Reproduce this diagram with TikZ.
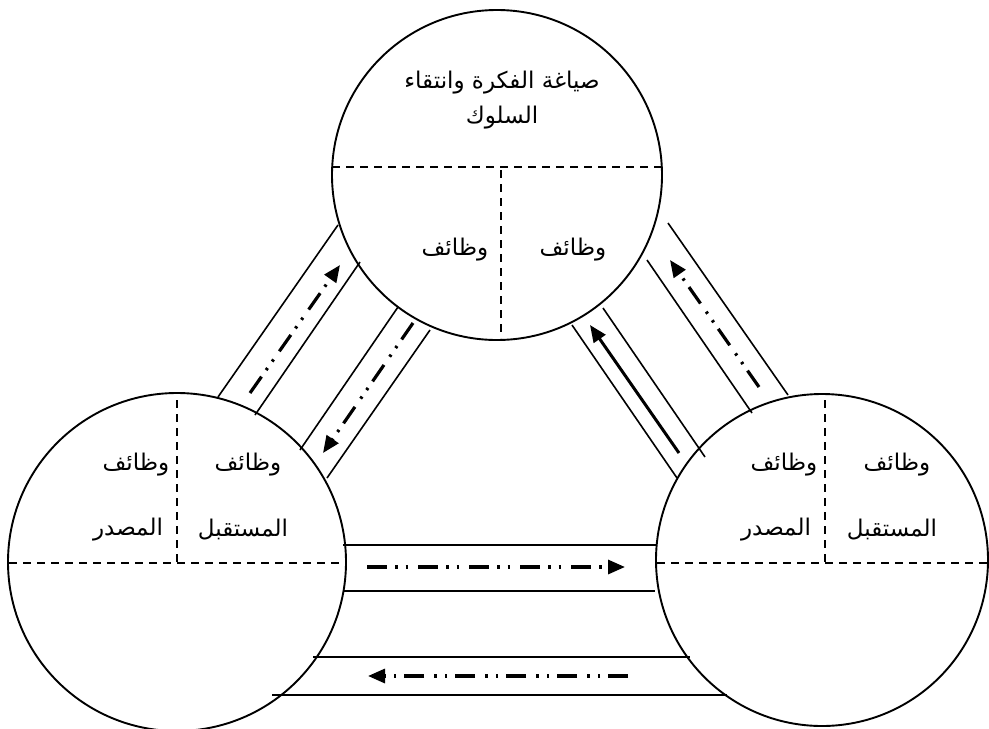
\documentclass[tikz,border=0pt]{standalone}
\usepackage{fontspec}
\usetikzlibrary{arrows.meta}
\newfontfamily\arabicfont[Script=Arabic]{DejaVu Sans}
\TeXXeTstate=1
\newcommand{\rl}[1]{\beginR #1\endR}

\begin{document}
\begin{tikzpicture}[x=1pt, y=-1pt,
  circ/.style={draw, circle, line width=1.9pt, minimum size=#1, inner sep=0pt},
  txt/.style={font=\arabicfont\fontsize{23}{35}\selectfont, inner sep=0pt, align=center},
  sep/.style={line width=1.5pt, dash pattern=on 8pt off 6pt},
  band/.style={line width=1.6pt},
  flow/.style={->, line width=3.2pt, dash pattern=on 20pt off 8pt on 2.5pt off 8pt on 2.5pt off 10pt},
  >={Triangle[length=17pt,width=14pt]}]
\useasboundingbox (0,0) rectangle (989,729);
% the three circles
\node[circ=330pt] (top) at (497,175) {};
\node[circ=338pt] (left) at (177,562) {};
\node[circ=332pt] (right) at (822,560) {};
% dashed separators
\draw[sep] (332,167) -- (662,167);
\draw[sep] (501,170) -- (501,338);
\draw[sep] (9,563) -- (345,563);
\draw[sep] (177,400) -- (177,563);
\draw[sep] (657,563) -- (987,563);
\draw[sep] (825,400) -- (825,563);
% texts
\node[txt] (title) at (502,100) {\rl{صياغة الفكرة وانتقاء}\\\rl{السلوك}};
\node[txt] (tl) at (455,250) {\rl{وظائف}};
\node[txt] (tr) at (573,250) {\rl{وظائف}};
\node[txt] (l1) at (136,465) {\rl{وظائف}};
\node[txt] (l2) at (128,530) {\rl{المصدر}};
\node[txt] (l3) at (248,465) {\rl{وظائف}};
\node[txt] (l4) at (243,530) {\rl{المستقبل}};
\node[txt] (r1) at (784,465) {\rl{وظائف}};
\node[txt] (r2) at (776,530) {\rl{المصدر}};
\node[txt] (r3) at (897,465) {\rl{وظائف}};
\node[txt] (r4) at (892,530) {\rl{المستقبل}};
% bands between left and top
\draw[band] (218,397) -- (338,225);
\draw[band] (255,415) -- (360,262);
\draw[band] (300,450) -- (398,307);
\draw[band] (327,478) -- (430,330);
% bands between top and right
\draw[band] (572,325) -- (677,478);
\draw[band] (603,308) -- (705,457);
\draw[band] (647,260) -- (752,413);
\draw[band] (668,223) -- (788,395);
% bands between left and right
\draw[band] (343,545) -- (657,545);
\draw[band] (343,591) -- (655,591);
\draw[band] (313,657) -- (690,657);
\draw[band] (272,695) -- (727,695);
% arrow ends
\coordinate (a1s) at (250,393); \coordinate (a1e) at (340,265);
\coordinate (a2s) at (413,323); \coordinate (a2e) at (323,453);
\coordinate (a3s) at (679,453); \coordinate (a3e) at (590,325);
\coordinate (a4s) at (759,387); \coordinate (a4e) at (670,260);
\coordinate (a5s) at (367,567); \coordinate (a5e) at (625,567);
\coordinate (a6s) at (628,676); \coordinate (a6e) at (368,676);
\draw[flow] (a1s) -- (a1e);
\draw[flow] (a2s) -- (a2e);
\draw[->, line width=3pt] (a3s) -- (a3e);
\draw[flow] (a4s) -- (a4e);
\draw[flow] (a5s) -- (a5e);
\draw[flow] (a6s) -- (a6e);
\end{tikzpicture}
\end{document}
